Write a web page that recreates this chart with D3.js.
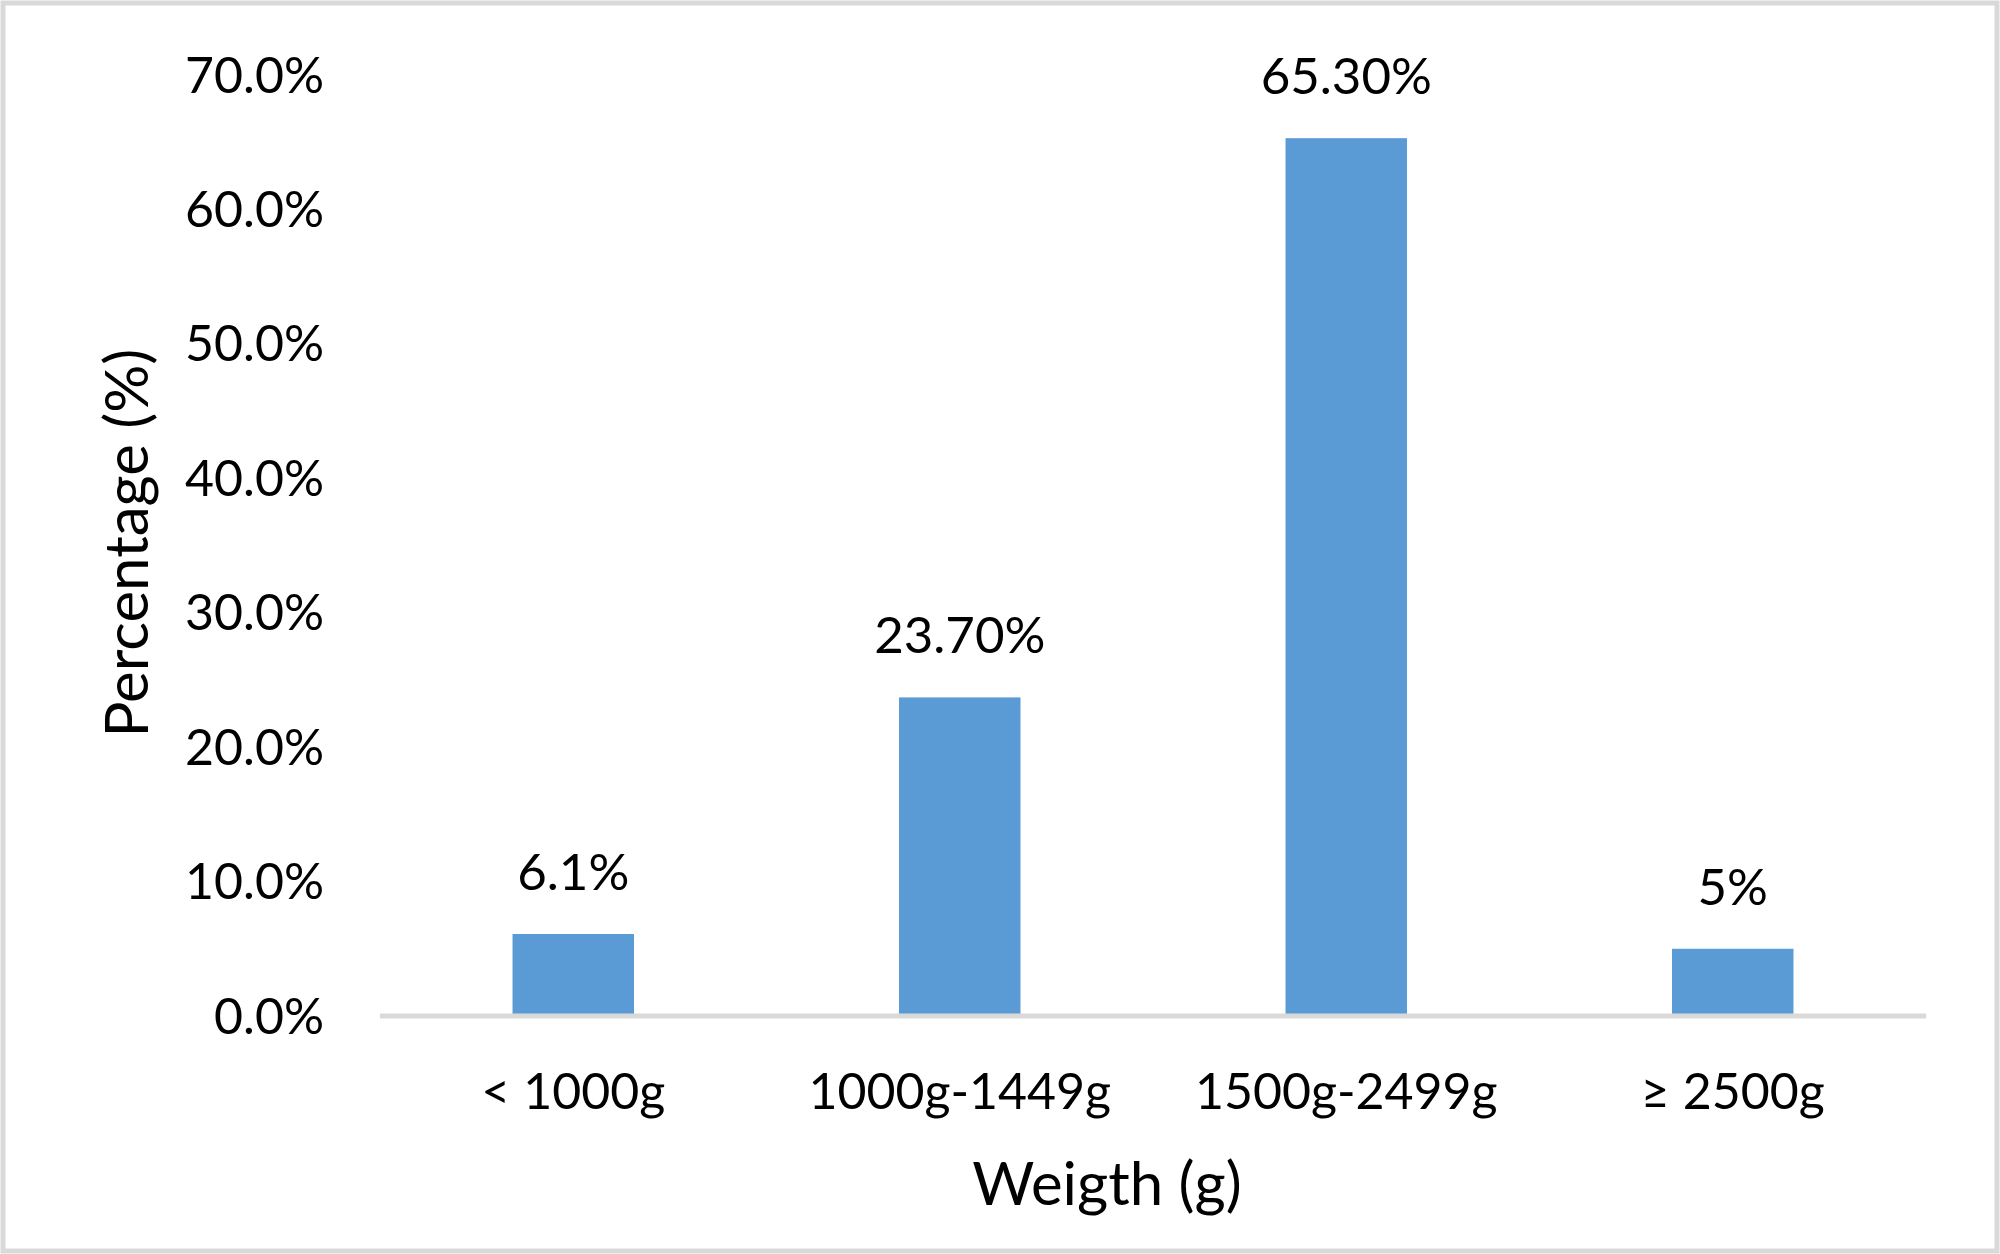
<!DOCTYPE html>
<html>
<head>
<meta charset="utf-8">
<script src="https://cdn.jsdelivr.net/npm/d3@7"></script>
<style>
  html, body { margin: 0; padding: 0; background: #fff; }
  svg { display: block; }
  text { font-family: Lato, "Open Sans", sans-serif; fill: #000; }
</style>
</head>
<body>
<script>
const categories = ["< 1000g", "1000g-1449g", "1500g-2499g", "\u2265 2500g"];
const values = [6.1, 23.7, 65.3, 5];
const valueLabels = ["6.1%", "23.70%", "65.30%", "5%"];
const yTicks = [0, 10, 20, 30, 40, 50, 60, 70];
const xTitle = "Weigth (g)";
const yTitle = "Percentage (%)";

const W = 2000, H = 1254;
const svg = d3.select("body").append("svg").attr("width", W).attr("height", H);

svg.append("rect").attr("x", 3).attr("y", 3).attr("width", W - 6).attr("height", H - 6)
  .attr("fill", "#fff").attr("stroke", "#d9d9d9").attr("stroke-width", 5);

const x = d3.scaleBand().domain(categories).range([380, 1926])
  .paddingInner(0.6857).paddingOuter(0.6857 / 2);
const y = d3.scaleLinear().domain([0, 70]).range([1016, 75]);

// y tick labels
const yAxis = d3.axisLeft(y).tickValues(yTicks).tickSize(0).tickPadding(0)
  .tickFormat(d => d.toFixed(1) + "%");
const gy = svg.append("g").attr("transform", "translate(324,0)").call(yAxis);
gy.select(".domain").remove();
gy.selectAll("text").attr("font-size", 50).attr("font-family", "Lato")
  .attr("fill", "#000").attr("dy", null).attr("y", 17).attr("x", 0)
  .attr("text-anchor", "end");

// bars
svg.append("g").selectAll("rect").data(values).join("rect")
  .attr("x", (d, i) => x(categories[i]))
  .attr("width", x.bandwidth())
  .attr("y", d => y(d))
  .attr("height", d => y(0) - y(d))
  .attr("fill", "#5b9bd5");

// x axis line + labels
const xAxis = d3.axisBottom(x).tickSize(0).tickPadding(0);
const gx = svg.append("g").attr("transform", "translate(0,1016)").call(xAxis);
gx.select(".domain").attr("stroke", "#d9d9d9").attr("stroke-width", 5)
  .attr("d", "M380,0H1926");
gx.selectAll("text").attr("font-size", 50).attr("font-family", "Lato")
  .attr("fill", "#000").attr("dy", null).attr("y", 93);

// data labels
svg.append("g").selectAll("text").data(values).join("text")
  .attr("x", (d, i) => x(categories[i]) + x.bandwidth() / 2)
  .attr("y", d => y(d) - 44)
  .attr("text-anchor", "middle")
  .attr("font-size", 51)
  .text((d, i) => valueLabels[i]);

// axis titles
svg.append("text").attr("x", 1107).attr("y", 1205).attr("text-anchor", "middle")
  .attr("font-size", 60).text(xTitle);
svg.append("text").attr("transform", "translate(148,543) rotate(-90)")
  .attr("text-anchor", "middle").attr("font-size", 60).text(yTitle);
</script>
</body>
</html>
